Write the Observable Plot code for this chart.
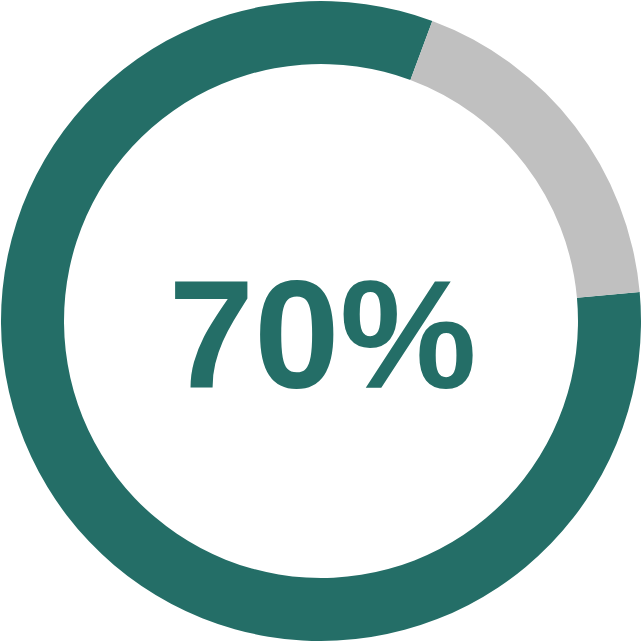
<!DOCTYPE html>
<html>
<head>
<meta charset="utf-8">
<script src="https://cdn.jsdelivr.net/npm/d3@7"></script>
<script src="https://cdn.jsdelivr.net/npm/@observablehq/plot@0.6"></script>
<style>
  html, body { margin: 0; padding: 0; background: #fff; }
  #chart svg { display: block; }
</style>
</head>
<body>
<div id="chart"></div>
<script>
const segments = ["Filled", "Remaining"];
const values = [82.1, 17.9];
const colors = ["#246e67", "#c0c0c0"];
const centerLabel = ["70%"];
const startDeg = 84.8;

const W = 642, H = 642;
const data = segments.map((s, i) => ({segment: s, value: values[i]}));

const colorScale = Plot.scale({color: {type: "ordinal", domain: segments, range: colors}});

function donut(index, scales, values_, dims) {
  const cx = dims.width / 2, cy = dims.height / 2;
  const outer = Math.min(dims.width, dims.height) / 2 - 1;
  const inner = outer - 63;
  const a0 = startDeg * Math.PI / 180;
  const pie = d3.pie().sort(null).value(d => d.value).startAngle(a0).endAngle(a0 + 2 * Math.PI);
  const arc = d3.arc().innerRadius(inner).outerRadius(outer);
  const g = d3.create("svg:g").attr("transform", `translate(${cx},${cy})`);
  g.selectAll("path").data(pie(data)).join("path")
    .attr("d", arc)
    .attr("fill", d => colorScale.apply(d.data.segment));
  return g.node();
}

const chart = Plot.plot({
  width: W,
  height: H,
  margin: 0,
  x: {axis: null},
  y: {axis: null},
  marks: [
    donut,
    Plot.text(centerLabel, {
      text: d => d,
      frameAnchor: "middle",
      dy: 17,
      dx: 1,
      fontSize: 154,
      fontWeight: "bold",
      fontFamily: "Liberation Sans, Arial, sans-serif",
      fill: colors[0]
    })
  ]
});
document.getElementById("chart").appendChild(chart);
</script>
</body>
</html>
